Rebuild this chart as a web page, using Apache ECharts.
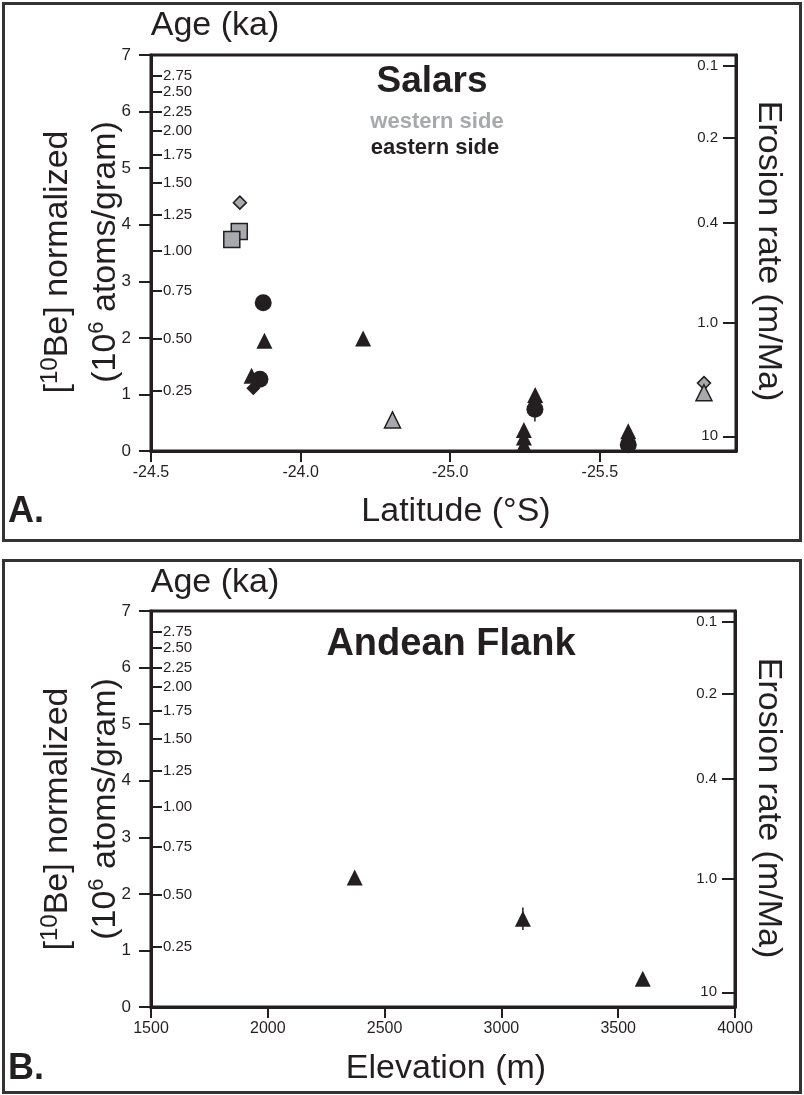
<!DOCTYPE html>
<html><head><meta charset="utf-8">
<script src="https://cdn.jsdelivr.net/npm/echarts@6/dist/echarts.min.js"></script>
<style>html,body{margin:0;padding:0;background:#fff}#c{width:804px;height:1095px}</style>
</head><body><div id="c"></div>
<script>
// ---------- tick labels ----------
const ageLabels = ['2.75','2.50','2.25','2.00','1.75','1.50','1.25','1.00','0.75','0.50','0.25'];
const agePos = [6.64,6.35,6.00,5.66,5.24,4.745,4.175,3.535,2.825,1.985,1.065];
const erosionLabels = ['0.1','0.2','0.4','1.0','10'];
const erosionPos = [6.81,5.54,4.03,2.27,0.26];
const latTickPos = [23.5,24.0,24.5,25.0];
const latTickLabels = ['-24.5','-24.0','-25.0','-25.5'];

// ---------- Panel A (Salars): [latitude °S, [10Be] 10^6 atoms/g] ----------
const westDiamond = [[23.797,4.39],[25.348,1.20]];
const westSquare = [[23.795,3.88],[23.770,3.74]];
const westTriangle = [[24.307,0.55],[25.348,1.03]];
const eastDiamond = [[23.842,1.11]];
const eastCircle = [[23.875,2.62],[23.864,1.27],[24.783,0.74],[25.095,0.11]];
const eastTriangle = [[23.879,1.95],[24.209,1.99],[23.836,1.33],[24.784,0.99],[24.746,0.37],[24.746,0.24],[24.746,0.11],[25.095,0.35]];
const eastError = [[24.783,0.52,0.96]];

// ---------- Panel B (Andean Flank): [elevation m, [10Be]] ----------
const flankTriangle = [[2372,2.29],[3092,1.56],[3605,0.50]];
const flankError = [[3092,1.36,1.76]];

const FONT = '"Liberation Sans", Arial, Helvetica, sans-serif';
const INK = '#231f20';
const GREY = '#a7a9ac';

function nearestLabel(v, pos, labels){
  let bi = -1, bd = 1e9;
  pos.forEach((p,i)=>{ const d = Math.abs(p-v); if(d<bd){bd=d;bi=i;} });
  return bd < 1e-6 ? labels[bi] : '';
}

const GRIDS = [
  {left:151, top:55, width:585, height:396},
  {left:151, top:611, width:584, height:396}
];

function mainY(gi){
  return {type:'value', gridIndex:gi, min:0, max:7, interval:1, position:'left',
    axisLine:{show:true, lineStyle:{color:INK, width:3}},
    axisTick:{show:true, length:12, lineStyle:{color:INK, width:2}},
    axisLabel:{margin:20, fontSize:17, color:INK, fontFamily:FONT},
    splitLine:{show:false}};
}
function ageY(gi){
  return {type:'value', gridIndex:gi, min:0, max:7, position:'left',
    axisLine:{show:false},
    axisTick:{show:true, inside:true, length:11, customValues:agePos, lineStyle:{color:INK, width:2}},
    axisLabel:{inside:true, margin:12, fontSize:15, color:INK, fontFamily:FONT, customValues:agePos,
      formatter:v=>nearestLabel(v, agePos, ageLabels)},
    splitLine:{show:false}};
}
function erosionY(gi){
  return {type:'value', gridIndex:gi, min:0, max:7, position:'right',
    axisLine:{show:true, lineStyle:{color:INK, width:3}},
    axisTick:{show:true, inside:true, length:13, customValues:erosionPos, lineStyle:{color:INK, width:2}},
    axisLabel:{inside:true, margin:18, fontSize:15, color:INK, fontFamily:FONT, customValues:erosionPos,
      formatter:v=>nearestLabel(v, erosionPos, erosionLabels)},
    splitLine:{show:false}};
}

function errSeries(data, xi, yi){
  return {type:'custom', xAxisIndex:xi, yAxisIndex:yi, z:1, data:data,
    renderItem:(params, api)=>{
      const a = api.coord([api.value(0), api.value(1)]);
      const b = api.coord([api.value(0), api.value(2)]);
      return {type:'line', shape:{x1:a[0], y1:a[1], x2:b[0], y2:b[1]}, style:{stroke:INK, lineWidth:1.5}};
    }};
}
function sc(name, data, symbol, size, fill, border, xi, yi){
  return {name, type:'scatter', xAxisIndex:xi, yAxisIndex:yi, data, symbol, symbolSize:size, z:3,
    itemStyle:{color:fill, borderColor:border, borderWidth:border ? 1.5 : 0, opacity:1},
    emphasis:{disabled:true}};
}

function txt(text, x, y, size, opts){
  opts = opts || {};
  return {type:'text', x, y, rotation:opts.rot||0, silent:true,
    style:{text, fontSize:size, fontFamily:FONT, fontWeight:opts.bold?'bold':'normal',
      fill:opts.color||INK, textAlign:opts.align||'center', textVerticalAlign:'middle',
      rich:opts.rich}};
}
function titleRich(sup){
  return {n:{fontSize:34, fontFamily:FONT, fill:INK, lineHeight:40},
          s:{fontSize:sup, fontFamily:FONT, fill:INK, lineHeight:sup+2, verticalAlign:'top'}};
}

const graphics = [
  {type:'rect', shape:{x:3.5, y:3.5, width:797, height:537}, style:{fill:'none', stroke:'#333', lineWidth:3}, silent:true},
  {type:'rect', shape:{x:3.5, y:560.5, width:797, height:532}, style:{fill:'none', stroke:'#333', lineWidth:3}, silent:true}
];
[0, 557].forEach((dy, i)=>{
  graphics.push(txt('Age (ka)', 215, 26+dy, 34));
  graphics.push(txt('{n|[}{s|10}{n|Be] normalized}', 58, 262+dy, 34, {rot:Math.PI/2, rich:titleRich(24)}));
  graphics.push(txt('{n|(10}{s|6}{n| atoms/gram)}', 106, 252+dy, 34, {rot:Math.PI/2, rich:titleRich(22)}));
  graphics.push(txt('Erosion rate (m/Ma)', 768, 251+dy, 34, {rot:-Math.PI/2}));
  graphics.push(txt(i===0?'A.':'B.', 8, 512+dy, 36, {bold:true, align:'left'}));
});
graphics.push(txt('Latitude (°S)', 456, 512, 34));
graphics.push(txt('Elevation (m)', 446, 1069, 34));
graphics.push(txt('Salars', 432, 82, 37, {bold:true}));
graphics.push(txt('western side', 437, 122, 22, {bold:true, color:GREY}));
graphics.push(txt('eastern side', 435, 148, 22, {bold:true}));
graphics.push(txt('Andean Flank', 451, 645, 38, {bold:true}));

const option = {
  animation:false,
  backgroundColor:'#fff',
  grid: GRIDS.map(g=>Object.assign({show:true, borderColor:INK, borderWidth:3, backgroundColor:'transparent'}, g)),
  xAxis:[
    {type:'value', gridIndex:0, min:23.5, max:25.455, position:'bottom',
      axisLine:{show:true, onZero:false, lineStyle:{color:INK, width:3}},
      axisTick:{show:true, length:11, customValues:latTickPos, lineStyle:{color:INK, width:2}},
      axisLabel:{margin:14, fontSize:16, color:INK, fontFamily:FONT, customValues:latTickPos,
        formatter:v=>nearestLabel(v, latTickPos, latTickLabels)},
      splitLine:{show:false}},
    {type:'value', gridIndex:1, min:1500, max:4000, interval:500, position:'bottom',
      axisLine:{show:true, onZero:false, lineStyle:{color:INK, width:3}},
      axisTick:{show:true, length:11, lineStyle:{color:INK, width:2}},
      axisLabel:{margin:14, fontSize:16, color:INK, fontFamily:FONT, formatter:v=>String(v)},
      splitLine:{show:false}}
  ],
  yAxis:[ mainY(0), ageY(0), erosionY(0), mainY(1), ageY(1), erosionY(1) ],
  graphic: graphics,
  series:[
    errSeries(eastError, 0, 0),
    sc('east diamond', eastDiamond, 'diamond', 14, INK, null, 0, 0),
    sc('east circle', eastCircle, 'circle', 17, INK, null, 0, 0),
    sc('east triangle', eastTriangle, 'triangle', 16, INK, null, 0, 0),
    sc('west diamond', westDiamond, 'diamond', 13, GREY, INK, 0, 0),
    sc('west square', westSquare, 'rect', 16, GREY, INK, 0, 0),
    sc('west triangle', westTriangle, 'triangle', 16, GREY, INK, 0, 0),
    errSeries(flankError, 1, 3),
    sc('flank triangle', flankTriangle, 'triangle', 16, INK, null, 1, 3)
  ]
};
const chart = echarts.init(document.getElementById('c'), null, {renderer:'canvas'});
chart.setOption(option);
</script></body></html>
